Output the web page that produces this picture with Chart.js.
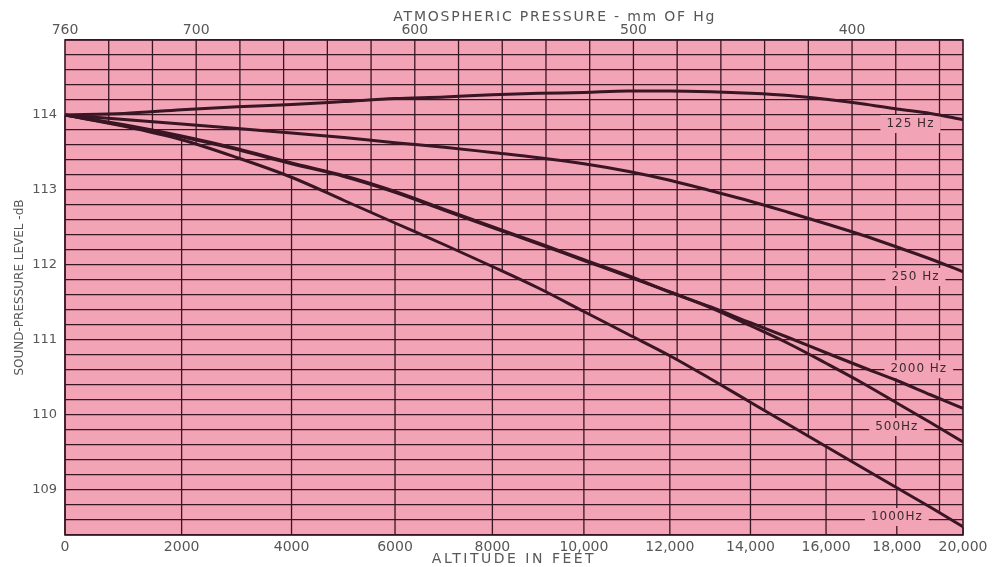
<!DOCTYPE html>
<html>
<head>
<meta charset="utf-8">
<title>Sound-pressure level vs altitude</title>
<script src="https://cdn.jsdelivr.net/npm/chart.js@4.4.1/dist/chart.umd.min.js"></script>
<style>
  html, body { margin: 0; padding: 0; background: #fff; }
  #wrap { width: 1007px; height: 567px; }
</style>
</head>
<body>
<div id="wrap"><canvas id="altChart"></canvas></div>
<script>
// altitudes (ft) at which the curves were read
var altitudes = [0, 1000, 2000, 3000, 4000, 5000, 6000, 7000, 8000, 9000, 10000,
                 11000, 12000, 13000, 14000, 15000, 16000, 17000, 18000, 19000, 20000];

// sound-pressure level, dB
var spl125  = [114.00, 114.02, 114.07, 114.11, 114.14, 114.18, 114.22, 114.24, 114.27, 114.29, 114.30,
               114.32, 114.32, 114.31, 114.29, 114.26, 114.21, 114.15, 114.08, 114.02, 113.94];
var spl250  = [114.00, 113.94, 113.88, 113.82, 113.76, 113.70, 113.63, 113.57, 113.50, 113.43, 113.35,
               113.25, 113.13, 112.99, 112.85, 112.70, 112.55, 112.40, 112.24, 112.08, 111.91];
var spl500  = [114.00, 113.87, 113.72, 113.55, 113.36, 113.19, 112.98, 112.74, 112.51, 112.29, 112.07,
               111.86, 111.64, 111.43, 111.19, 110.95, 110.69, 110.43, 110.16, 109.90, 109.64];
var spl2000 = [114.00, 113.86, 113.71, 113.54, 113.35, 113.18, 112.97, 112.73, 112.50, 112.28, 112.06,
               111.85, 111.64, 111.44, 111.23, 111.03, 110.83, 110.64, 110.46, 110.27, 110.09];
var spl1000 = [114.00, 113.85, 113.67, 113.43, 113.17, 112.86, 112.56, 112.27, 111.98, 111.69, 111.38,
               111.08, 110.79, 110.48, 110.17, 109.87, 109.58, 109.30, 109.03, 108.77, 108.51];

// curve labels written on the sheet (altitude ft, dB)
var curveNames = ['125 Hz', '250 Hz', '2000 Hz', '500Hz', '1000Hz'];
var nameAlt    = [18400, 18550, 18650, 18000, 18000];
var nameSpl    = [113.88, 111.84, 110.61, 109.84, 108.64];

// axes
var altTicks      = [0, 2000, 4000, 6000, 8000, 10000, 12000, 14000, 16000, 18000, 20000];
var altTickLabels = ['0', '2000', '4000', '6000', '8000', '10,000', '12,000', '14,000', '16,000', '18,000', '20,000'];
var pressureTicks = [760, 700, 600, 500, 400];
var pressureGrid  = [740, 720, 700, 680, 660, 640, 620, 600, 580, 560, 540, 520, 500,
                     480, 460, 440, 420, 400, 380, 360];
var topTitleAt    = 536;   // mm Hg, where the top caption is centred

var INK = '#3a1524';
var PAPER = '#f2a4b6';
var LABEL = '#575757';

// standard atmosphere: altitude in feet -> pressure in mm of Hg
function toPressure(ft) {
    return 760 * Math.pow(1 - 6.8756e-6 * ft, 5.2559);
}

function toPoints(series) {
    return altitudes.map(function (a, i) { return { x: toPressure(a), y: series[i] }; });
}

var paperGrid = {
    id: 'paperGrid',
    beforeDraw: function (chart) {
        var a = chart.chartArea, ctx = chart.ctx;
        ctx.save();
        ctx.fillStyle = PAPER;
        ctx.fillRect(a.left, a.top, a.right - a.left, a.bottom - a.top);
        ctx.restore();
    },
    beforeDatasetsDraw: function (chart) {
        var a = chart.chartArea, ctx = chart.ctx, x = chart.scales.x, y = chart.scales.y;
        // lowest curve (1000 Hz) splits the pressure grid from the altitude grid
        var pts = chart.getDatasetMeta(4).data;
        function lowY(px) {
            for (var i = 1; i < pts.length; i++) {
                if (pts[i].x >= px) {
                    var t = (px - pts[i - 1].x) / (pts[i].x - pts[i - 1].x);
                    return pts[i - 1].y + t * (pts[i].y - pts[i - 1].y);
                }
            }
            return pts[pts.length - 1].y;
        }
        ctx.save();
        ctx.strokeStyle = INK;
        ctx.lineWidth = 1.3;
        ctx.beginPath();
        pressureGrid.forEach(function (p) {
            var px = x.getPixelForValue(p);
            ctx.moveTo(px, a.top);
            ctx.lineTo(px, lowY(px));
        });
        altTicks.forEach(function (h) {
            var px = x.getPixelForValue(toPressure(h));
            ctx.moveTo(px, lowY(px));
            ctx.lineTo(px, a.bottom);
        });
        ctx.stroke();

        ctx.lineWidth = 1.6;
        ctx.strokeRect(a.left, a.top, a.right - a.left, a.bottom - a.top);

        // frequency labels with a blank patch of paper behind them
        ctx.font = '12px "DejaVu Sans"';
        ctx.letterSpacing = '1px';
        ctx.textAlign = 'center';
        ctx.textBaseline = 'middle';
        curveNames.forEach(function (name, i) {
            var px = x.getPixelForValue(toPressure(nameAlt[i]));
            var py = y.getPixelForValue(nameSpl[i]);
            var w = ctx.measureText(name).width + 12;
            ctx.fillStyle = PAPER;
            ctx.fillRect(px - w / 2, py - 9, w, 18);
            ctx.fillStyle = '#3b2a30';
            ctx.fillText(name, px, py);
        });
        ctx.restore();
    },
    afterDraw: function (chart) {
        var ctx = chart.ctx, a = chart.chartArea, x2 = chart.scales.x2;
        ctx.save();
        ctx.fillStyle = LABEL;
        ctx.textAlign = 'center';
        ctx.textBaseline = 'middle';
        ctx.font = '14px "DejaVu Sans"';
        ctx.letterSpacing = '1.8px';
        ctx.fillText('ATMOSPHERIC PRESSURE - mm OF Hg', x2.getPixelForValue(topTitleAt), 17);
        ctx.letterSpacing = '2.5px';
        ctx.fillText('ALTITUDE IN FEET', (a.left + a.right) / 2, 559);
        ctx.restore();
    }
};

function curve(label, series) {
    return {
        label: label,
        data: toPoints(series),
        borderColor: INK,
        borderWidth: 3,
        pointRadius: 0,
        fill: false,
        cubicInterpolationMode: 'monotone',
        xAxisID: 'x',
        yAxisID: 'y'
    };
}

var tickFont = { family: 'DejaVu Sans', size: 14 };

new Chart(document.getElementById('altChart').getContext('2d'), {
    type: 'line',
    data: {
        datasets: [
            curve('125 Hz', spl125),
            curve('250 Hz', spl250),
            curve('500 Hz', spl500),
            curve('2000 Hz', spl2000),
            curve('1000 Hz', spl1000)
        ]
    },
    options: {
        responsive: true,
        maintainAspectRatio: false,
        animation: false,
        layout: { padding: { left: 0, right: 44, top: 0, bottom: 0 } },
        plugins: { legend: { display: false }, tooltip: { enabled: false } },
        scales: {
            x: {
                type: 'linear',
                position: 'bottom',
                reverse: true,
                min: toPressure(20000),
                max: 760,
                grid: { display: false, drawTicks: false },
                border: { display: false },
                afterBuildTicks: function (scale) {
                    scale.ticks = altTicks.map(function (h) { return { value: toPressure(h) }; });
                },
                afterFit: function (scale) { scale.height = 32; },
                ticks: {
                    autoSkip: false,
                    maxRotation: 0,
                    padding: 4,
                    color: LABEL,
                    font: tickFont,
                    callback: function (v, i) { return altTickLabels[i]; }
                }
            },
            x2: {
                type: 'linear',
                position: 'top',
                reverse: true,
                min: toPressure(20000),
                max: 760,
                grid: { display: false, drawTicks: false },
                border: { display: false },
                afterBuildTicks: function (scale) {
                    scale.ticks = pressureTicks.map(function (p) { return { value: p }; });
                },
                afterFit: function (scale) { scale.height = 40; },
                ticks: {
                    autoSkip: false,
                    maxRotation: 0,
                    padding: 1,
                    color: LABEL,
                    font: tickFont,
                    callback: function (v) { return String(v); }
                }
            },
            y: {
                type: 'linear',
                min: 108.4,
                max: 115,
                grid: { color: INK, lineWidth: 1.3, drawTicks: false },
                border: { display: false },
                afterFit: function (scale) { scale.width = 65; },
                ticks: {
                    stepSize: 0.2,
                    autoSkip: false,
                    padding: 8,
                    color: LABEL,
                    font: { family: 'DejaVu Sans', size: 13 },
                    callback: function (v) {
                        var r = Math.round(v);
                        return (Math.abs(v - r) < 1e-6 && r < 115) ? String(r) : '';
                    }
                },
                title: {
                    display: true,
                    text: 'SOUND-PRESSURE LEVEL -dB',
                    color: LABEL,
                    font: { family: 'DejaVu Sans', size: 12 },
                    padding: { top: 13, bottom: 0 }
                }
            }
        }
    },
    plugins: [paperGrid]
});
</script>
</body>
</html>
